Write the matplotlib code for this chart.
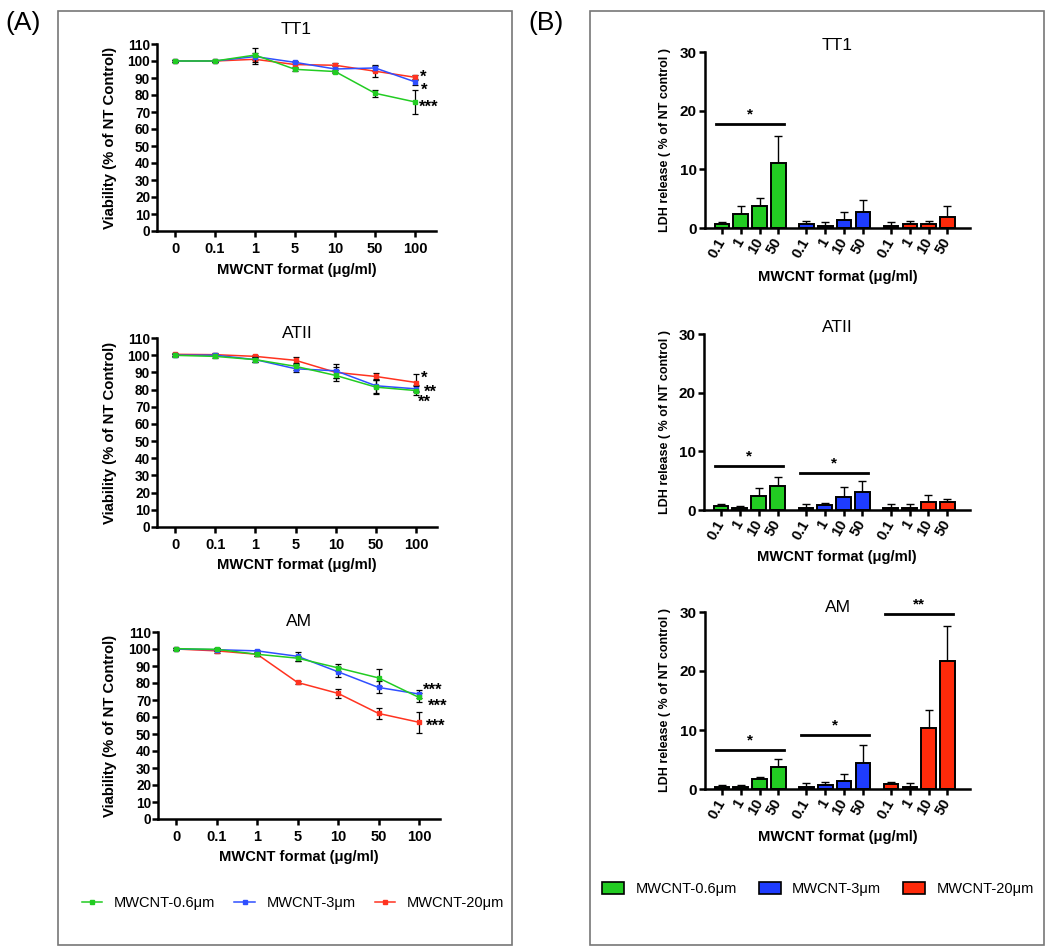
import matplotlib.pyplot as plt
from matplotlib.lines import Line2D
from matplotlib.patches import Patch, Rectangle

plt.rcParams['font.family'] = ['Liberation Sans', 'DejaVu Sans']

W, H = 1050, 947

series = ["MWCNT-0.6μm", "MWCNT-3μm", "MWCNT-20μm"]
line_colors = ["#22CC22", "#2F4FFF", "#FF3320"]
bar_colors = ["#22CC22", "#1E3CFF", "#FF2A0A"]
cells = ["TT1", "ATII", "AM"]

# (A) viability, % of NT control
doses = ["0", "0.1", "1", "5", "10", "50", "100"]
via = {
    "TT1": [[100, 100, 103.5, 95.1, 93.8, 81.0, 75.9],
            [100, 100, 102.6, 99.2, 95.3, 95.9, 87.7],
            [100, 100, 101.0, 97.9, 97.5, 94.0, 90.4]],
    "ATII": [[99.9, 99.3, 97.4, 93.5, 88.2, 81.4, 79.4],
             [100, 100, 97.4, 92.1, 90.9, 82.2, 80.4],
             [100.5, 100.3, 99.3, 97.0, 90.0, 87.6, 84.1]],
    "AM": [[100.2, 99.8, 96.9, 94.6, 88.9, 83.0, 71.5],
           [100, 99.6, 98.9, 95.7, 86.6, 77.4, 73.5],
           [100, 98.9, 96.9, 80.3, 73.9, 62.1, 56.9]],
}
via_err = {
    "TT1": [[0.5, 0.8, 4.0, 1.0, 1.0, 2.0, 7.0],
            [0.3, 0.5, 2.0, 1.0, 1.5, 1.5, 2.0],
            [0.3, 0.5, 2.5, 1.5, 1.5, 3.3, 1.5]],
    "ATII": [[0.8, 0.8, 1.5, 2.0, 3.0, 4.0, 2.5],
             [0.5, 0.5, 1.5, 2.0, 4.0, 4.0, 2.0],
             [0.8, 0.8, 1.0, 2.0, 3.0, 2.0, 5.0]],
    "AM": [[0.5, 0.8, 0.8, 1.5, 2.0, 5.0, 2.5],
           [0.5, 0.5, 0.8, 2.5, 3.0, 3.5, 2.5],
           [0.5, 1.5, 0.8, 1.0, 2.5, 3.0, 6.3]],
}
# significance marks next to the 100 µg/ml points: (text, x, y)
via_marks = {
    "TT1": [("*", 6.12, 93.0), ("*", 6.14, 85.0), ("***", 6.1, 75.0)],
    "ATII": [("*", 6.13, 89.0), ("**", 6.2, 81.0), ("**", 6.05, 75.0)],
    "AM": [("***", 6.1, 78.2), ("***", 6.22, 69.0), ("***", 6.17, 57.0)],
}

# (B) LDH release, % of NT control
ldh_doses = ["0.1", "1", "10", "50"]
ldh = {
    "TT1": [[0.7, 2.4, 3.7, 11.0], [0.7, 0.4, 1.4, 2.8], [0.4, 0.7, 0.7, 1.8]],
    "ATII": [[0.7, 0.3, 2.4, 4.1], [0.3, 0.8, 2.3, 3.1], [0.3, 0.3, 1.4, 1.4]],
    "AM": [[0.3, 0.3, 1.7, 3.7], [0.3, 0.7, 1.4, 4.4], [0.8, 0.3, 10.4, 21.7]],
}
ldh_err = {
    "TT1": [[0.3, 1.3, 1.4, 4.7], [0.5, 0.6, 1.4, 2.0], [0.6, 0.5, 0.5, 2.0]],
    "ATII": [[0.3, 0.3, 1.3, 1.6], [0.7, 0.4, 1.6, 1.9], [0.7, 0.7, 1.1, 0.4]],
    "AM": [[0.3, 0.3, 0.3, 1.4], [0.7, 0.5, 1.1, 3.0], [0.4, 0.7, 3.0, 6.0]],
}
# significance bars: (group, line y, text)
ldh_marks = {
    "TT1": [(0, 17.7, "*")],
    "ATII": [(0, 7.5, "*"), (1, 6.3, "*")],
    "AM": [(0, 6.6, "*"), (1, 9.2, "*"), (2, 29.7, "**")],
}


def fbox(left, top, right, bottom):
    return [left / W, 1 - bottom / H, (right - left) / W, (bottom - top) / H]


def prism(ax, xsize, ysize):
    for s in ["top", "right"]:
        ax.spines[s].set_visible(False)
    for s in ["left", "bottom"]:
        ax.spines[s].set_linewidth(1.8)
    ax.tick_params(width=1.8, length=4)
    ax.tick_params(axis="x", labelsize=xsize)
    ax.tick_params(axis="y", labelsize=ysize)
    for lab in ax.get_xticklabels() + ax.get_yticklabels():
        lab.set_fontweight("bold")


fig = plt.figure(figsize=(W / 100, H / 100), dpi=100)

# panel frames and letters
for x0, x1 in [(58, 512), (590, 1044)]:
    fig.add_artist(Rectangle((x0 / W, 1 - 945 / H), (x1 - x0) / W, 934 / H,
                             transform=fig.transFigure, fill=False,
                             ec="#777777", lw=1.2))
fig.text(5 / W, 1 - 23 / H, "(A)", fontsize=19, va="center", ha="left")
fig.text(528 / W, 1 - 23 / H, "(B)", fontsize=19, va="center", ha="left")

# ---- (A) line plots
left_boxes = [(157, 44, 436, 231, 30, 270), (157, 338, 437, 527, 333, 565),
              (158, 632, 440, 819, 622, 857)]
for cell, (l, t, r, b, ty, xy) in zip(cells, left_boxes):
    ax = fig.add_axes(fbox(l, t, r, b))
    x = range(len(doses))
    for k in range(3):
        ax.errorbar(x, via[cell][k], yerr=via_err[cell][k], color=line_colors[k],
                    lw=1.1, marker="s", ms=2.5, ecolor="black", elinewidth=0.9,
                    capsize=2.5, capthick=0.9, zorder=3 - k * 0.1)
    for txt, mx, my in via_marks[cell]:
        ax.text(mx, my - 2.5, txt, fontsize=12, fontweight="bold", va="center",
                ha="left", clip_on=False)
    ax.set_xlim(-0.45, 6.52)
    ax.set_ylim(0, 110)
    ax.set_yticks(range(0, 111, 10))
    ax.set_xticks(list(x))
    ax.set_xticklabels(doses)
    ax.tick_params(axis="x", pad=4)
    ax.tick_params(axis="y", pad=1)
    prism(ax, 10.5, 9.8)
    ax.text(0.5, (b - ty) / (b - t), cell, transform=ax.transAxes, fontsize=12.5,
            ha="center", va="center")
    ax.set_ylabel("Viability (% of NT Control)", fontsize=10.7, fontweight="bold")
    ax.yaxis.set_label_coords((110 - l) / (r - l), 0.5)
    ax.yaxis.label.set_va("center")
    ax.set_xlabel("MWCNT format (μg/ml)", fontsize=10.6, fontweight="bold")
    ax.xaxis.set_label_coords(0.5, -(xy - b) / (b - t))
    ax.xaxis.label.set_va("center")

fig.legend([Line2D([], [], color=c, lw=1.1, marker="s", ms=2.5) for c in line_colors],
           series, loc="center", bbox_to_anchor=(293 / W, 1 - 903 / H), ncol=3,
           frameon=False, fontsize=10.5, handlelength=1.4, handletextpad=0.8,
           columnspacing=1.3)

# ---- (B) bar plots
right_boxes = [(705, 52, 970, 228, 45, 277), (704, 334, 970, 510, 327, 557),
               (705, 612, 970, 789, 608, 837)]
for cell, (l, t, r, b, ty, xy) in zip(cells, right_boxes):
    ax = fig.add_axes(fbox(l, t, r, b))
    pos, labels = [], []
    for g in range(3):
        xs = [g * 4.5 + i for i in range(len(ldh_doses))]
        ax.bar(xs, ldh[cell][g], width=0.78, color=bar_colors[g],
               edgecolor="black", linewidth=1.4, zorder=2)
        ax.errorbar(xs, ldh[cell][g], yerr=[[0] * 4, ldh_err[cell][g]], fmt="none",
                    ecolor="black", elinewidth=1.0, capsize=3, capthick=1.0,
                    zorder=1)
        pos += xs
        labels += ldh_doses
    for g, ly, txt in ldh_marks[cell]:
        ax.plot([g * 4.5 - 0.3, g * 4.5 + 3.3], [ly, ly], color="black", lw=2,
                clip_on=False)
        ax.text(g * 4.5 + 1.5, ly + 0.4, txt, fontsize=11, fontweight="bold",
                ha="center", va="bottom", clip_on=False)
    ax.set_xlim(-0.9, 13.2)
    ax.set_ylim(0, 30)
    ax.set_yticks([0, 10, 20, 30])
    ax.set_xticks(pos)
    ax.set_xticklabels(labels, rotation=60, ha="right", va="center",
                       rotation_mode="anchor")
    ax.tick_params(axis="x", pad=4)
    ax.tick_params(axis="y", pad=2)
    prism(ax, 10.5, 11)
    ax.text(0.5, (b - ty) / (b - t), cell, transform=ax.transAxes, fontsize=12.5,
            ha="center", va="center")
    ax.set_ylabel("LDH release ( % of NT control )", fontsize=9,
                  fontweight="bold")
    ax.yaxis.set_label_coords((665 - l) / (r - l), 0.5)
    ax.yaxis.label.set_va("center")
    ax.set_xlabel("MWCNT format (μg/ml)", fontsize=10.6, fontweight="bold")
    ax.xaxis.set_label_coords(0.5, -(xy - b) / (b - t))
    ax.xaxis.label.set_va("center")

fig.legend([Patch(facecolor=c, edgecolor="black", lw=1.2) for c in bar_colors],
           series, loc="center", bbox_to_anchor=(818 / W, 1 - 889 / H), ncol=3,
           frameon=False, fontsize=10.5, handlelength=1.5, handleheight=0.8,
           handletextpad=0.8, columnspacing=1.5)

fig.savefig("out.png", dpi=100)
